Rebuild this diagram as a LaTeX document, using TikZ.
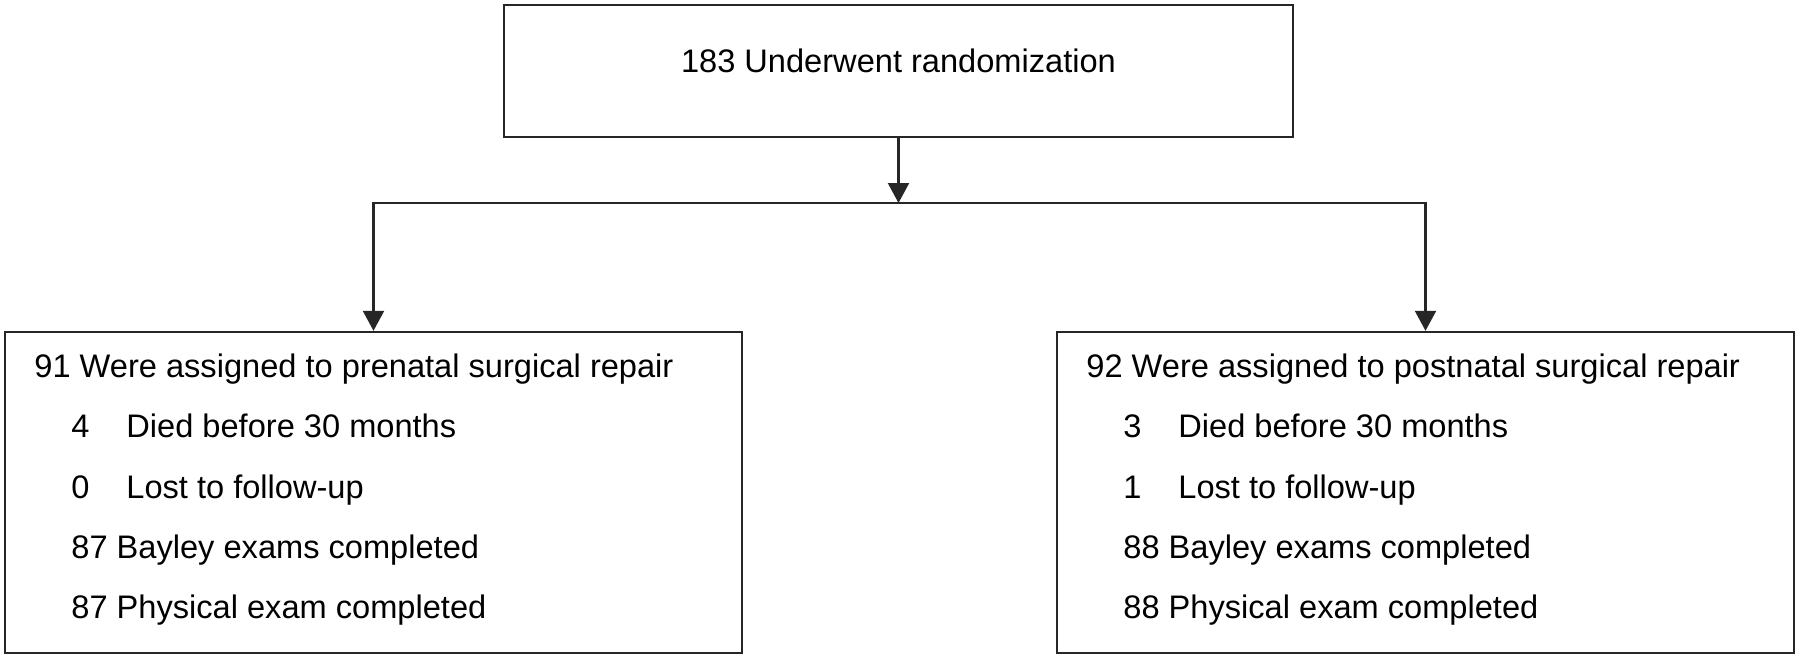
\documentclass[tikz,border=0pt]{standalone}
\usepackage{fontspec}
\setmainfont{Liberation Sans}
\usepackage{tikz}
\usetikzlibrary{arrows.meta, positioning}

\begin{document}
\begin{tikzpicture}[x=0.5pt, y=-0.5pt,
	box/.style={draw=black!85, line width=1.2pt, rectangle, inner sep=0pt},
	link/.style={draw=black!85, line width=1.1pt, line cap=rect},
	arr/.style={draw=black!85, line width=1.1pt, -{Triangle[length=10pt,width=10.5pt]}},
	txt/.style={anchor=base west, inner sep=0pt, font=\fontsize{16.3pt}{19pt}\selectfont},
	]
	\useasboundingbox (0,0) rectangle (1800,659);
	\node[box, minimum width=394.5pt, minimum height=66pt] (rand) at (898.5,71) {};
	\node[txt, anchor=base] (randtxt) at (898.5,72) {183 Underwent randomization};
	\node[box, minimum width=368.5pt, minimum height=160.5pt] (prenatal) at (373.5,492.5) {};
	\node[box, minimum width=368.5pt, minimum height=160.5pt] (postnatal) at (1425.5,492.5) {};

	\node[txt] (pretitle) at (34,377) {91 Were assigned to prenatal surgical repair};
	\node[txt] (prediedn) at (71,437) {4};
	\node[txt] (predied) at (126,437) {Died before 30 months};
	\node[txt] (prelostn) at (71,498) {0};
	\node[txt] (prelost) at (126,498) {Lost to follow-up};
	\node[txt] (prebayley) at (71,558) {87 Bayley exams completed};
	\node[txt] (prephys) at (71,618) {87 Physical exam completed};

	\node[txt] (posttitle) at (1086,377) {92 Were assigned to postnatal surgical repair};
	\node[txt] (postdiedn) at (1123,437) {3};
	\node[txt] (postdied) at (1178,437) {Died before 30 months};
	\node[txt] (postlostn) at (1123,498) {1};
	\node[txt] (postlost) at (1178,498) {Lost to follow-up};
	\node[txt] (postbayley) at (1123,558) {88 Bayley exams completed};
	\node[txt] (postphys) at (1123,618) {88 Physical exam completed};

	\coordinate (split) at (898.5,203);
	\coordinate (lsplit) at (prenatal.north |- split);
	\coordinate (rsplit) at (postnatal.north |- split);
	\draw[arr] (rand.south) -- (split);
	\draw[link] (lsplit) -- (rsplit);
	\draw[arr] (lsplit) -- (prenatal.north);
	\draw[arr] (rsplit) -- (postnatal.north);
\end{tikzpicture}
\end{document}
